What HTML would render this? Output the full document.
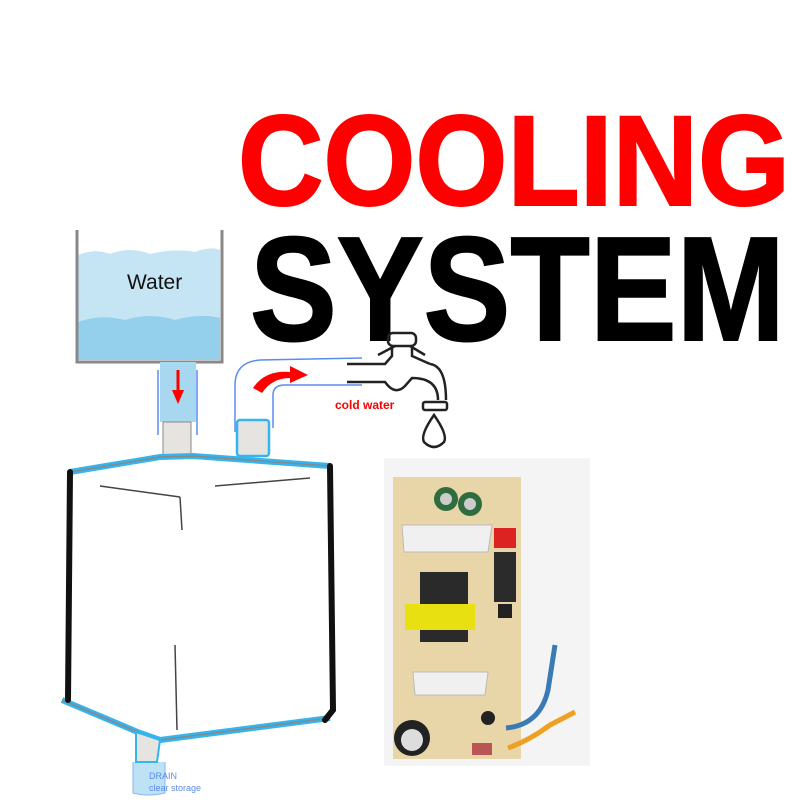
<!DOCTYPE html>
<html><head><style>
body{margin:0;width:800px;height:800px;background:#fff;overflow:hidden}
svg{display:block}
</style></head><body>
<svg width="800" height="800" viewBox="0 0 800 800" xmlns="http://www.w3.org/2000/svg">
<text x="238" y="205" font-family="Liberation Sans, sans-serif" font-weight="bold" font-size="128" fill="#ff0000" textLength="552" lengthAdjust="spacingAndGlyphs" stroke="#ff0000" stroke-width="2">COOLING</text>
<text x="250" y="340" font-family="Liberation Sans, sans-serif" font-weight="bold" font-size="148" fill="#000" textLength="535" lengthAdjust="spacingAndGlyphs" stroke="#000" stroke-width="2">SYSTEM</text>
<!-- water tank -->
<path d="M78 255 Q95 248 110 254 Q130 246 150 254 Q175 248 195 252 Q210 246 220 250 L220 360 L78 360Z" fill="#c5e5f5"/>
<path d="M78 322 Q100 314 125 320 Q150 312 175 320 Q200 313 220 318 L220 360 L78 360Z" fill="#94d0ec"/>
<path d="M77 230 L77 362 L222 362 L222 230" fill="none" stroke="#888" stroke-width="3"/>
<text x="127" y="289" font-family="Liberation Sans, sans-serif" font-size="21" fill="#111">Water</text>
<!-- pipe -->
<rect x="160" y="362" width="36" height="60" fill="#a8d8f0"/>
<line x1="158" y1="370" x2="158" y2="435" stroke="#5b8cf0" stroke-width="1.5"/>
<line x1="197" y1="370" x2="197" y2="435" stroke="#5b8cf0" stroke-width="1.5"/>
<path d="M178 370 L178 393" stroke="#f00" stroke-width="3"/>
<path d="M172 390 L178 404 L184 390Z" fill="#f00"/>
<rect x="163" y="422" width="28" height="33" fill="#e6e4e0" stroke="#888"/>
<rect x="237" y="420" width="32" height="36" rx="3" fill="#e6e4e0" stroke="#33b5f0" stroke-width="2.5"/>
<path d="M235 432 L235 385 Q235 362 260 360 L362 358" fill="none" stroke="#5b8cf0" stroke-width="1.5"/>
<path d="M273 428 L273 395 Q273 385 285 385 L362 385" fill="none" stroke="#5b8cf0" stroke-width="1.5"/>
<path d="M253 388 Q265 370 290 372 L290 366 L308 375 L290 383 L290 378 Q272 378 262 393Z" fill="#f00"/>
<text x="335" y="409" font-family="Liberation Sans, sans-serif" font-weight="bold" font-size="12" fill="#f00">cold water</text>
<!-- faucet -->
<g fill="none" stroke="#222" stroke-width="2.5">
<path d="M347 364 L385 364 L392 356 L392 346 M430 364 L412 356 L412 346"/>
<rect x="388" y="333" width="28" height="13" rx="5"/>
<path d="M378 355 L395 346 M425 355 L410 346"/>
<path d="M347 382 L385 382 Q395 396 405 386 L412 378 Q438 378 438 400"/>
<path d="M430 364 Q446 366 446 400"/>
<rect x="423" y="402" width="24" height="8" rx="2"/>
<path d="M434 415 Q420 435 424 442 Q434 452 444 442 Q448 435 434 415Z"/>
</g>
<!-- container -->
<path d="M70 472 L160 457 L193 456 L330 466" fill="none" stroke="#33b5f0" stroke-width="6"/>
<path d="M70 472 L160 457 L193 456 L330 466" fill="none" stroke="#888" stroke-width="1.5"/>
<path d="M62 700 L140 733 L160 740 L330 718" fill="none" stroke="#33b5f0" stroke-width="6"/>
<path d="M62 700 L140 733 L160 740 L330 718" fill="none" stroke="#888" stroke-width="1.5"/>
<path d="M70 472 L68 700" fill="none" stroke="#111" stroke-width="6" stroke-linecap="round"/>
<path d="M330 466 L333 710 L325 720" fill="none" stroke="#111" stroke-width="6" stroke-linecap="round"/>
<path d="M100 486 L180 497 M215 486 L310 478 M180 497 L182 530 M175 645 L177 730" stroke="#444" stroke-width="1.5" fill="none"/>
<path d="M133 762 L133 793 Q148 797 165 793 L165 762" fill="#bde2f6" stroke="#8ab4f0"/>
<path d="M136 732 L160 740 L157 762 L136 762Z" fill="#e6e4e0" stroke="#33b5f0" stroke-width="2"/>
<text x="149" y="779" font-family="Liberation Sans, sans-serif" font-size="9" fill="#5b8cf0">DRAIN</text>
<text x="149" y="791" font-family="Liberation Sans, sans-serif" font-size="9" fill="#5b8cf0">clear storage</text>
<!-- PCB -->
<rect x="384" y="458" width="206" height="308" fill="#f4f4f4"/>
<rect x="393" y="477" width="128" height="282" fill="#e8d5a8"/>
<circle cx="446" cy="499" r="12" fill="#2f6d3e"/><circle cx="470" cy="504" r="12" fill="#2f6d3e"/>
<circle cx="446" cy="499" r="6" fill="#ccc"/><circle cx="470" cy="504" r="6" fill="#ccc"/>
<path d="M402 525 L492 525 L488 552 L404 552Z" fill="#f0f0f0" stroke="#bbb"/>
<rect x="494" y="528" width="22" height="20" fill="#d22"/>
<rect x="494" y="552" width="22" height="50" fill="#2b2b2b"/>
<rect x="420" y="572" width="48" height="70" fill="#2a2a2a"/>
<rect x="405" y="604" width="70" height="26" fill="#e8e010"/>
<rect x="498" y="604" width="14" height="14" fill="#222"/>
<path d="M413 672 L488 672 L485 695 L415 695Z" fill="#f0f0f0" stroke="#bbb"/>
<circle cx="412" cy="738" r="18" fill="#222"/><circle cx="412" cy="740" r="11" fill="#ddd"/>
<rect x="472" y="743" width="20" height="12" fill="#b55"/>
<circle cx="488" cy="718" r="7" fill="#222"/>
<path d="M506 728 Q540 725 548 690 L555 645" fill="none" stroke="#3a7ab5" stroke-width="5"/>
<path d="M508 748 Q530 740 550 725 L575 712" fill="none" stroke="#f0a020" stroke-width="5"/>
</svg>
</body></html>
